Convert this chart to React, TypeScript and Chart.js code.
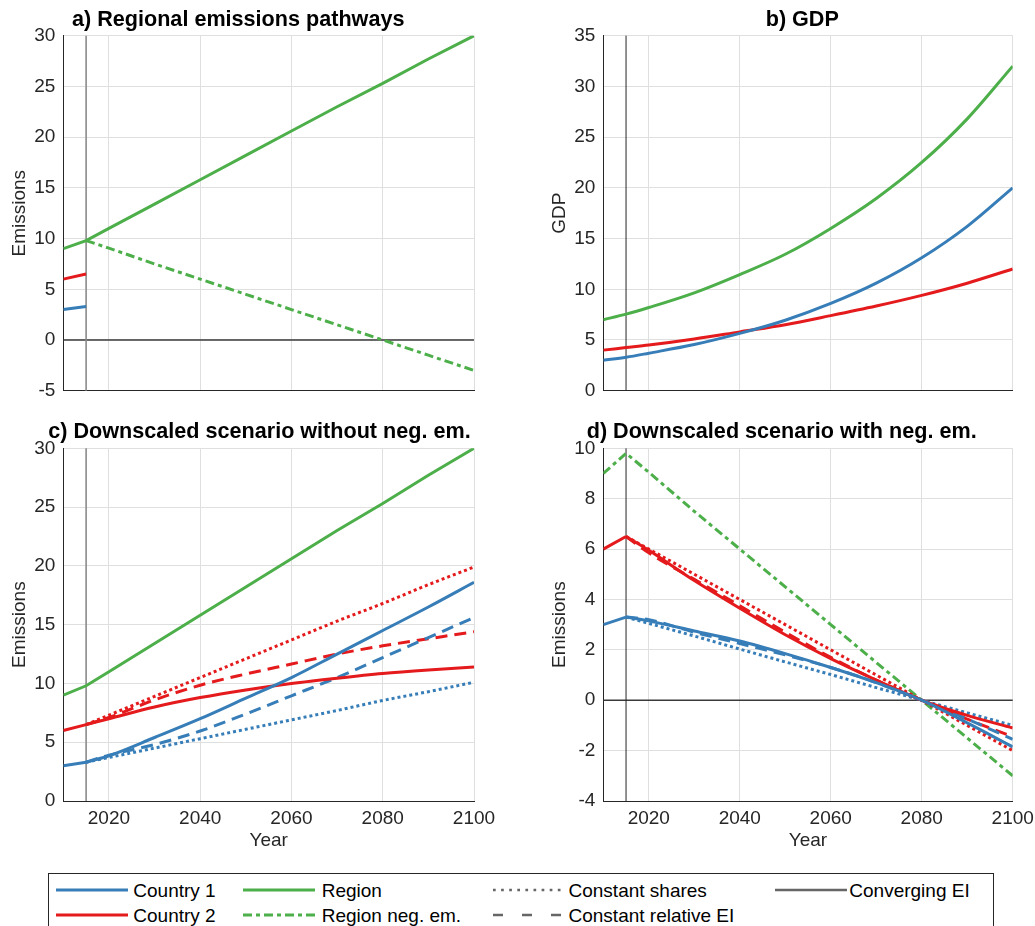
import React, { useEffect, useRef } from "react";
import { Chart, registerables } from "chart.js";

Chart.register(...registerables);

// ---------- style constants ----------
const FONT = '"Liberation Sans", Arial, Helvetica, sans-serif';
const BLUE = "#377eb8";
const RED = "#e41a1c";
const GREEN = "#4daf4a";
const GRAY = "#666666";
const AXIS = "#262626";
const GRID = "#dfdfdf";
const REF_GRAY = "#8a8a8a";

const SOLID: number[] = [];
const DASHED = [12, 7];
const DOTTED = [3, 3];
const DASHDOT = [9, 4, 4, 4];

// ---------- data ----------
const YEARS_HIST = [2010, 2015];
const YEARS = [2010, 2015, 2020, 2030, 2040, 2050, 2060, 2070, 2080, 2090, 2100];
const YEARS_FUT = [2015, 2020, 2030, 2040, 2050, 2060, 2070, 2080, 2090, 2100];

const X_MIN = 2010;
const X_MAX = 2100;
const X_TICKS = [2020, 2040, 2060, 2080, 2100];
const REF_YEAR = 2015;
const ZERO = 0;

const Y_TICKS_A = [-5, 0, 5, 10, 15, 20, 25, 30];
const Y_TICKS_B = [0, 5, 10, 15, 20, 25, 30, 35];
const Y_TICKS_C = [0, 5, 10, 15, 20, 25, 30];
const Y_TICKS_D = [-4, -2, 0, 2, 4, 6, 8, 10];

// historical emissions (2010-2015)
const COUNTRY1_HIST = [3.0, 3.3];
const COUNTRY2_HIST = [6.0, 6.5];

// a) Regional emissions pathways
const REGION = [9.0, 9.8, 11.0, 13.4, 15.8, 18.2, 20.6, 23.0, 25.3, 27.7, 30.0];
const REGION_NEG = [9.0, 9.8, 9.05, 7.5, 6.0, 4.5, 3.0, 1.5, 0.0, -1.5, -3.0];
const A_REGION_NEG_FUT = [9.8, 9.05, 7.5, 6.0, 4.5, 3.0, 1.5, 0.0, -1.5, -3.0];

// b) GDP
const B_COUNTRY1 = [3.0, 3.3, 3.7, 4.55, 5.65, 6.95, 8.6, 10.6, 13.1, 16.2, 20.0];
const B_COUNTRY2 = [4.0, 4.25, 4.5, 5.1, 5.8, 6.5, 7.4, 8.35, 9.4, 10.6, 12.0];
const B_REGION = [7.0, 7.55, 8.2, 9.65, 11.45, 13.45, 16.0, 18.95, 22.5, 26.8, 32.0];

// c) Downscaled scenario without neg. em. (2015-2100)
const C_C1_CONV = [3.3, 3.85, 5.4, 7.0, 8.75, 10.5, 12.5, 14.5, 16.5, 18.6];
const C_C2_CONV = [6.5, 7.0, 8.0, 8.8, 9.45, 10.0, 10.45, 10.85, 11.15, 11.4];
const C_C1_REL = [3.3, 3.9, 4.8, 5.95, 7.4, 8.95, 10.5, 12.2, 13.9, 15.6];
const C_C2_REL = [6.5, 7.1, 8.6, 9.85, 10.8, 11.65, 12.5, 13.2, 13.8, 14.4];
const C_C1_SHARE = [3.3, 3.7, 4.5, 5.3, 6.1, 6.9, 7.7, 8.55, 9.3, 10.1];
const C_C2_SHARE = [6.5, 7.3, 8.9, 10.5, 12.1, 13.7, 15.3, 16.8, 18.4, 19.9];

// d) Downscaled scenario with neg. em. (2015-2100)
const D_C1_CONV = [3.3, 3.15, 2.75, 2.35, 1.85, 1.3, 0.7, 0.0, -0.9, -1.85];
const D_C2_CONV = [6.5, 5.95, 4.75, 3.65, 2.6, 1.65, 0.8, 0.0, -0.6, -1.1];
const D_C1_REL = [3.3, 3.2, 2.7, 2.25, 1.8, 1.3, 0.7, 0.0, -0.75, -1.55];
const D_C2_REL = [6.5, 5.85, 4.8, 3.75, 2.7, 1.7, 0.8, 0.0, -0.75, -1.45];
const D_C1_SHARE = [3.3, 3.05, 2.55, 2.03, 1.52, 1.02, 0.5, 0.0, -0.5, -1.0];
const D_C2_SHARE = [6.5, 6.0, 5.0, 4.0, 3.0, 2.0, 1.0, 0.0, -1.0, -2.0];

const TITLES = [
  "a) Regional emissions pathways",
  "b) GDP",
  "c) Downscaled scenario without neg. em.",
  "d) Downscaled scenario with neg. em.",
];

// ---------- helpers ----------
const zip = (xs: number[], ys: number[]) => xs.map((x, i) => ({ x, y: ys[i] }));

function series(label: string, xs: number[], ys: number[], color: string, dash: number[], smooth: boolean) {
  return {
    label,
    data: zip(xs, ys),
    borderColor: color,
    backgroundColor: color,
    borderWidth: 3,
    borderDash: dash,
    pointRadius: 0,
    fill: false,
    tension: 0,
    cubicInterpolationMode: smooth ? "monotone" : "default",
  };
}

type Panel = {
  key: string;
  left: number;
  top: number;
  width: number;
  height: number;
  padTop: number;
  padRight: number;
  xHeight: number;
  showX: boolean;
  yMin: number;
  yMax: number;
  yTicks: number[];
  yTitle: string;
  refColor: string;
  refWidth: number;
  zeroLine: boolean;
  datasets: any[];
};

const PANELS: Panel[] = [
  {
    key: "a", left: 0, top: 0, width: 500, height: 420, padTop: 35.7, padRight: 26, xHeight: 29.3,
    showX: false, yMin: -5, yMax: 30, yTicks: Y_TICKS_A, yTitle: "Emissions",
    refColor: REF_GRAY, refWidth: 1.6, zeroLine: true,
    datasets: [
      series("Country 1", YEARS_HIST, COUNTRY1_HIST, BLUE, SOLID, false),
      series("Country 2", YEARS_HIST, COUNTRY2_HIST, RED, SOLID, false),
      series("Region", YEARS, REGION, GREEN, SOLID, false),
      series("Region neg. em.", YEARS_FUT, A_REGION_NEG_FUT, GREEN, DASHDOT, false),
    ],
  },
  {
    key: "b", left: 540, top: 0, width: 495, height: 420, padTop: 35.7, padRight: 22.3, xHeight: 29.3,
    showX: false, yMin: 0, yMax: 35, yTicks: Y_TICKS_B, yTitle: "GDP",
    refColor: AXIS, refWidth: 1, zeroLine: false,
    datasets: [
      series("Country 1", YEARS, B_COUNTRY1, BLUE, SOLID, true),
      series("Country 2", YEARS, B_COUNTRY2, RED, SOLID, true),
      series("Region", YEARS, B_REGION, GREEN, SOLID, true),
    ],
  },
  {
    key: "c", left: 0, top: 420, width: 500, height: 440, padTop: 28.3, padRight: 26, xHeight: 59,
    showX: true, yMin: 0, yMax: 30, yTicks: Y_TICKS_C, yTitle: "Emissions",
    refColor: REF_GRAY, refWidth: 1.6, zeroLine: false,
    datasets: [
      series("Country 1 historical", YEARS_HIST, COUNTRY1_HIST, BLUE, SOLID, false),
      series("Country 2 historical", YEARS_HIST, COUNTRY2_HIST, RED, SOLID, false),
      series("Country 1 converging EI", YEARS_FUT, C_C1_CONV, BLUE, SOLID, true),
      series("Country 2 converging EI", YEARS_FUT, C_C2_CONV, RED, SOLID, true),
      series("Country 1 constant relative EI", YEARS_FUT, C_C1_REL, BLUE, DASHED, true),
      series("Country 2 constant relative EI", YEARS_FUT, C_C2_REL, RED, DASHED, true),
      series("Country 1 constant shares", YEARS_FUT, C_C1_SHARE, BLUE, DOTTED, true),
      series("Country 2 constant shares", YEARS_FUT, C_C2_SHARE, RED, DOTTED, true),
      series("Region", YEARS, REGION, GREEN, SOLID, false),
    ],
  },
  {
    key: "d", left: 540, top: 420, width: 495, height: 440, padTop: 28.3, padRight: 22.3, xHeight: 59,
    showX: true, yMin: -4, yMax: 10, yTicks: Y_TICKS_D, yTitle: "Emissions",
    refColor: AXIS, refWidth: 1, zeroLine: true,
    datasets: [
      series("Country 1 historical", YEARS_HIST, COUNTRY1_HIST, BLUE, SOLID, false),
      series("Country 2 historical", YEARS_HIST, COUNTRY2_HIST, RED, SOLID, false),
      series("Country 1 converging EI", YEARS_FUT, D_C1_CONV, BLUE, SOLID, true),
      series("Country 2 converging EI", YEARS_FUT, D_C2_CONV, RED, SOLID, true),
      series("Country 1 constant relative EI", YEARS_FUT, D_C1_REL, BLUE, DASHED, true),
      series("Country 2 constant relative EI", YEARS_FUT, D_C2_REL, RED, DASHED, true),
      series("Country 1 constant shares", YEARS_FUT, D_C1_SHARE, BLUE, DOTTED, false),
      series("Country 2 constant shares", YEARS_FUT, D_C2_SHARE, RED, DOTTED, false),
      series("Region neg. em.", YEARS, REGION_NEG, GREEN, DASHDOT, false),
    ],
  },
];

function refPlugin(p: Panel) {
  return {
    id: "refLines" + p.key,
    beforeDatasetsDraw(chart: any) {
      const { ctx, chartArea: a, scales } = chart;
      ctx.save();
      ctx.setLineDash([]);
      if (p.zeroLine) {
        const py = scales.y.getPixelForValue(ZERO);
        ctx.strokeStyle = "#3a3a3a";
        ctx.lineWidth = 1.3;
        ctx.beginPath();
        ctx.moveTo(a.left, py);
        ctx.lineTo(a.right, py);
        ctx.stroke();
      }
      const px = scales.x.getPixelForValue(REF_YEAR);
      ctx.strokeStyle = p.refColor;
      ctx.lineWidth = p.refWidth;
      ctx.beginPath();
      ctx.moveTo(px, a.top);
      ctx.lineTo(px, a.bottom);
      ctx.stroke();
      ctx.restore();
    },
  };
}

function makeConfig(p: Panel): any {
  const tickFont = { size: 19, family: FONT };
  return {
    type: "line",
    data: { datasets: p.datasets },
    options: {
      animation: false,
      responsive: false,
      events: [],
      layout: { padding: { left: 0, top: p.padTop, right: p.padRight, bottom: 0 } },
      plugins: { legend: { display: false }, tooltip: { enabled: false }, title: { display: false } },
      scales: {
        x: {
          type: "linear",
          position: "bottom",
          min: X_MIN,
          max: X_MAX,
          afterBuildTicks: (s: any) => {
            s.ticks = X_TICKS.map((v) => ({ value: v }));
          },
          afterFit: (s: any) => {
            s.height = p.xHeight;
            s.paddingLeft = 0;
            s.paddingRight = 0;
          },
          grid: { color: GRID, lineWidth: 1, drawTicks: false },
          border: { color: AXIS, width: 1 },
          ticks: {
            display: p.showX,
            color: AXIS,
            font: tickFont,
            padding: 6,
            maxRotation: 0,
            autoSkip: false,
            callback: (v: any) => String(v),
          },
          title: {
            display: p.showX,
            text: "Year",
            color: AXIS,
            font: tickFont,
            padding: { top: 0, bottom: 7.5 },
          },
        },
        y: {
          type: "linear",
          position: "left",
          min: p.yMin,
          max: p.yMax,
          afterBuildTicks: (s: any) => {
            s.ticks = p.yTicks.map((v) => ({ value: v }));
          },
          afterFit: (s: any) => {
            s.width = 63.3;
            s.paddingTop = 0;
            s.paddingBottom = 0;
          },
          grid: { color: GRID, lineWidth: 1, drawTicks: false },
          border: { color: AXIS, width: 1 },
          ticks: {
            color: AXIS,
            font: tickFont,
            padding: 8,
            autoSkip: false,
            callback: (v: any) => String(v),
          },
          title: {
            display: true,
            text: p.yTitle,
            color: AXIS,
            font: tickFont,
            padding: { top: 8, bottom: 0 },
          },
        },
      },
    },
    plugins: [refPlugin(p)],
  };
}

function PanelChart({ p }: { p: Panel }) {
  const ref = useRef<HTMLCanvasElement | null>(null);
  useEffect(() => {
    if (!ref.current) return;
    const chart = new Chart(ref.current, makeConfig(p));
    return () => chart.destroy();
  }, [p]);
  return (
    <canvas
      ref={ref}
      width={p.width}
      height={p.height}
      style={{ position: "absolute", left: p.left, top: p.top, width: p.width, height: p.height }}
    />
  );
}

const TITLE_POS = [
  { left: 72, top: 8.0 },
  { left: 765.7, top: 8.0 },
  { left: 48.3, top: 420.3 },
  { left: 586.7, top: 420.3 },
];

function Sample({ color, dash, width }: { color: string; dash: string; width: number }) {
  return (
    <svg width={72} height={10} style={{ display: "block" }}>
      <line x1={0} y1={5} x2={72} y2={5} stroke={color} strokeWidth={width} strokeDasharray={dash || undefined} />
    </svg>
  );
}

const LEGEND_ITEMS = [
  { text: "Country 1", color: BLUE, dash: "", width: 3, lx: 56, tx: 133.3, row: 0 },
  { text: "Country 2", color: RED, dash: "", width: 3, lx: 56, tx: 133.3, row: 1 },
  { text: "Region", color: GREEN, dash: "", width: 3, lx: 243.3, tx: 321.7, row: 0 },
  { text: "Region neg. em.", color: GREEN, dash: "9 4 4 4", width: 3, lx: 243.3, tx: 321.7, row: 1 },
  { text: "Constant shares", color: GRAY, dash: "2.7 5.4", width: 2.7, lx: 493, tx: 568.5, row: 0 },
  { text: "Constant relative EI", color: GRAY, dash: "10 19", width: 2.7, lx: 493, tx: 568.5, row: 1 },
  { text: "Converging EI", color: GRAY, dash: "", width: 2.7, lx: 775, tx: 849.3, row: 0 },
];
const ROW_Y = [890, 915];

export default function App() {
  return (
    <div
      style={{
        position: "absolute",
        left: 0,
        top: 0,
        width: 1035,
        height: 926,
        overflow: "hidden",
        background: "#ffffff",
        fontFamily: FONT,
      }}
    >
      {PANELS.map((p) => (
        <PanelChart key={p.key} p={p} />
      ))}
      {TITLES.map((t, i) => (
        <div
          key={t}
          style={{
            position: "absolute",
            left: TITLE_POS[i].left,
            top: TITLE_POS[i].top,
            fontSize: 21.6,
            lineHeight: "21.6px",
            fontWeight: "bold",
            color: "#000",
            whiteSpace: "nowrap",
          }}
        >
          {t}
        </div>
      ))}
      <div
        style={{
          position: "absolute",
          left: 48.3,
          top: 873.3,
          width: 946,
          height: 70,
          border: "1px solid #262626",
          boxSizing: "border-box",
          background: "#fff",
        }}
      />
      {LEGEND_ITEMS.map((it) => (
        <React.Fragment key={it.text}>
          <div style={{ position: "absolute", left: it.lx, top: ROW_Y[it.row] - 5 }}>
            <Sample color={it.color} dash={it.dash} width={it.width} />
          </div>
          <div
            style={{
              position: "absolute",
              left: it.tx,
              top: ROW_Y[it.row] - 9.4,
              fontSize: 19,
              lineHeight: "19px",
              color: "#000",
              whiteSpace: "nowrap",
            }}
          >
            {it.text}
          </div>
        </React.Fragment>
      ))}
    </div>
  );
}
